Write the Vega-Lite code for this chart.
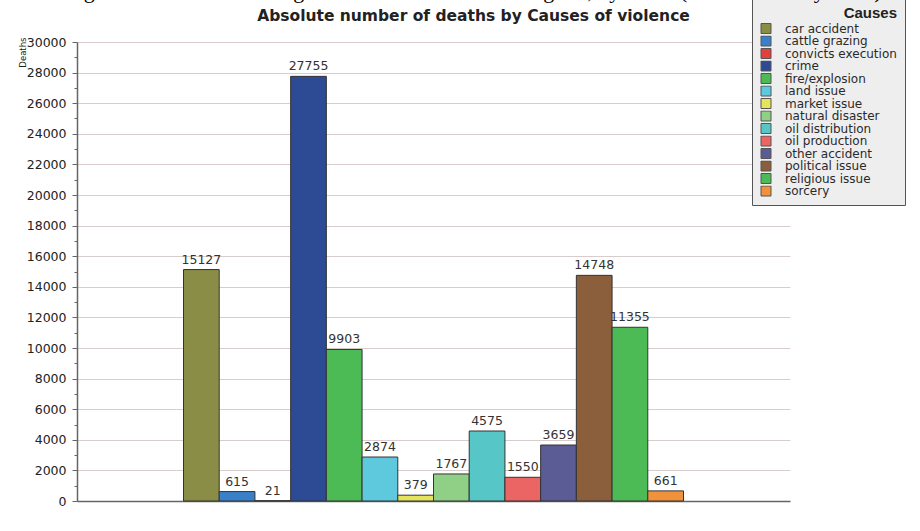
{
  "$schema": "https://vega.github.io/schema/vega-lite/v6.json",
  "width": 713,
  "height": 459,
  "autosize": {"type": "none"},
  "padding": {"left": 77, "top": 42, "right": 130, "bottom": 30},
  "background": "#ffffff",
  "title": {
    "text": "Figure 3.2 – Cumulated figures of violent deaths in Nigeria, by cause (June 2006-May 2014)",
    "subtitle": "Absolute number of deaths by Causes of violence",
    "anchor": "middle",
    "frame": "group",
    "dx": 40,
    "font": "Liberation Serif",
    "fontSize": 22,
    "fontWeight": "normal",
    "color": "#000000",
    "subtitleFont": "DejaVu Sans",
    "subtitleFontSize": 15.5,
    "subtitleFontWeight": "bold",
    "subtitleColor": "#222222",
    "subtitlePadding": 6,
    "offset": -28
  },
  "data": {
    "values": [
      {"cause": "car accident", "deaths": 15127},
      {"cause": "cattle grazing", "deaths": 615},
      {"cause": "convicts execution", "deaths": 21},
      {"cause": "crime", "deaths": 27755},
      {"cause": "fire/explosion", "deaths": 9903},
      {"cause": "land issue", "deaths": 2874},
      {"cause": "market issue", "deaths": 379},
      {"cause": "natural disaster", "deaths": 1767},
      {"cause": "oil distribution", "deaths": 4575},
      {"cause": "oil production", "deaths": 1550},
      {"cause": "other accident", "deaths": 3659},
      {"cause": "political issue", "deaths": 14748},
      {"cause": "religious issue", "deaths": 11355},
      {"cause": "sorcery", "deaths": 661}
    ]
  },
  "encoding": {
    "x": {
      "datum": "all",
      "type": "nominal",
      "scale": {"paddingInner": 0, "paddingOuter": 0.213},
      "axis": {"labels": false, "ticks": false, "title": null, "domainColor": "#666666", "domainWidth": 1.5}
    },
    "xOffset": {
      "field": "cause",
      "type": "nominal",
      "sort": null,
      "scale": {"paddingInner": 0, "paddingOuter": 0}
    },
    "y": {
      "field": "deaths",
      "type": "quantitative",
      "scale": {"domain": [0, 30000], "nice": false},
      "axis": null
    }
  },
  "layer": [
    {
      "mark": {"type": "bar", "stroke": "#333333", "strokeWidth": 1},
      "encoding": {
        "color": {
          "field": "cause",
          "type": "nominal",
          "sort": null,
          "scale": {
            "domain": ["car accident", "cattle grazing", "convicts execution", "crime", "fire/explosion", "land issue", "market issue", "natural disaster", "oil distribution", "oil production", "other accident", "political issue", "religious issue", "sorcery"],
            "range": ["#8a8d45", "#3a80c8", "#e2403a", "#2c4b94", "#4dbb55", "#5ec9dc", "#e6e35c", "#8fd086", "#57c6c6", "#ec6565", "#5b5b95", "#8b5f3c", "#4dbb55", "#f0913b"]
          },
          "legend": {
            "title": "Causes",
            "orient": "none",
            "legendX": 675,
            "legendY": -44,
            "titleAnchor": "end",
            "titleFont": "Liberation Sans",
            "titleFontSize": 15,
            "titleFontWeight": "bold",
            "titleColor": "#222222",
            "titlePadding": 2,
            "labelFont": "DejaVu Sans",
            "labelFontSize": 12,
            "labelColor": "#2a2a2a",
            "symbolType": "square",
            "symbolSize": 100,
            "symbolStrokeColor": "#555555",
            "symbolStrokeWidth": 1,
            "clipHeight": 11,
            "rowPadding": -0.5,
            "labelOffset": 13,
            "padding": 8,
            "fillColor": "#eeeeee",
            "strokeColor": "#555555",
            "symbolOpacity": 1
          }
        }
      }
    },
    {
      "mark": {"type": "text", "baseline": "bottom", "dy": -3, "font": "DejaVu Sans", "fontSize": 12.5, "color": "#333333"},
      "encoding": {
        "text": {"field": "deaths", "type": "quantitative", "format": "d"},
        "y": {
          "field": "deaths",
          "type": "quantitative",
          "axis": {
            "orient": "left",
            "values": [0, 2000, 4000, 6000, 8000, 10000, 12000, 14000, 16000, 18000, 20000, 22000, 24000, 26000, 28000, 30000],
            "format": "d",
            "labelFont": "DejaVu Sans",
            "labelFontSize": 12.5,
            "labelColor": "#222222",
            "labelPadding": 6,
            "tickSize": 5,
            "tickColor": "#666666",
            "domainColor": "#666666",
            "domainWidth": 1.5,
            "grid": true,
            "gridColor": "#d9cccc",
            "gridWidth": 1,
            "title": "Deaths",
            "titleFont": "DejaVu Sans",
            "titleFontSize": 8.5,
            "titleFontWeight": "normal",
            "titleColor": "#222222",
            "titleAnchor": "end",
            "titleX": -55,
            "titleY": -5,
            "titleAngle": -90,
            "titleAlign": "right",
            "titleBaseline": "middle"
          }
        }
      }
    },
    {
      "mark": {"type": "text", "opacity": 0},
      "encoding": {
        "text": {"field": "deaths", "type": "quantitative"},
        "y": {
          "field": "deaths",
          "type": "quantitative",
          "axis": {
            "orient": "left",
            "values": [1000, 3000, 5000, 7000, 9000, 11000, 13000, 15000, 17000, 19000, 21000, 23000, 25000, 27000, 29000],
            "labels": false,
            "grid": false,
            "domain": false,
            "tickSize": 3,
            "tickColor": "#666666",
            "title": null
          }
        }
      }
    }
  ],
  "resolve": {"axis": {"y": "independent"}},
  "config": {
    "view": {"stroke": null}
  }
}
